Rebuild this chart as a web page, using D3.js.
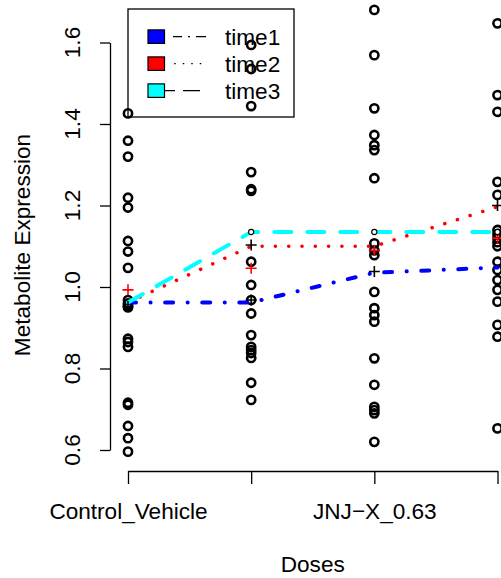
<!DOCTYPE html>
<html>
<head>
<meta charset="utf-8">
<script src="https://cdn.jsdelivr.net/npm/d3@7"></script>
<style>
  body { margin: 0; background: #fff; }
  text { font-family: "Liberation Sans", Arial, sans-serif; fill: #000; }
</style>
</head>
<body>
<div id="chart"></div>
<script>
// dose groups and the x tick labels R managed to print
const doses = ["Control_Vehicle", "dose2", "JNJ-X_0.63", "dose4"];
const tickLabels = ["Control_Vehicle", "", "JNJ\u2212X_0.63", ""];
const yTicks = [0.6, 0.8, 1.0, 1.2, 1.4, 1.6];

// raw metabolite values per dose
const ctrlValues = [1.426, 1.359, 1.32, 1.219, 1.195, 1.113, 1.087, 1.047, 0.968, 0.96, 0.955, 0.95,
  0.873, 0.865, 0.853, 0.716, 0.711, 0.659, 0.629, 0.596];
const dose2Values = [1.594, 1.535, 1.444, 1.282, 1.24, 1.236, 1.062, 1.005, 0.968, 0.935, 0.882,
  0.853, 0.845, 0.838, 0.826, 0.765, 0.723];
const dose3Values = [1.68, 1.569, 1.4385, 1.373, 1.348, 1.336, 1.267, 1.107, 1.09, 1.078, 0.988,
  0.948, 0.931, 0.915, 0.825, 0.76, 0.706, 0.698, 0.69, 0.62];
const dose4Values = [1.647, 1.471, 1.43, 1.258, 1.226, 1.14, 1.13, 1.12, 1.11, 1.1, 1.062, 1.042,
  1.017, 0.993, 0.964, 0.907, 0.878, 0.653];

// per-time summary lines
const times = ["time1", "time2", "time3"];
const time1Line = [0.962, 0.962, 1.035, 1.048];
const time2Line = [0.962, 1.10, 1.10, 1.197];
const time3Line = [0.962, 1.135, 1.135, 1.135];

// extra markers
const blackPlusDose = [0, 1, 1, 2, 3];
const blackPlusValue = [0.952, 1.103, 0.968, 1.038, 1.2];
const redPlusDose = [0, 1, 2, 3];
const redPlusValue = [0.993, 1.046, 1.09, 1.12];
const smallCircleDose = [1, 2, 3];
const smallCircleValue = [1.135, 1.135, 1.135];

const width = 501, height = 578;
const fontSize = "22.6px";
const colors = ["#0000ff", "#ff0000", "#00ffff"];

const svg = d3.select("#chart").append("svg")
    .attr("width", width)
    .attr("height", height);

const xScale = d3.scaleLinear().domain([0, 3]).range([128, 497.5]);
const yScale = d3.scaleLinear().domain([0.6, 1.6]).range([450, 42.5]);

// y axis (R style, no box)
svg.append("g")
    .attr("transform", "translate(110,0)")
    .call(d3.axisLeft(yScale).tickValues(yTicks).tickFormat(d3.format(".1f")).tickSize(10).tickSizeOuter(0))
    .call(g => g.select(".domain").attr("stroke-width", 1.3))
    .call(g => g.selectAll(".tick line").attr("stroke-width", 1.3))
    .call(g => g.selectAll(".tick text").remove());

svg.selectAll(".ylab")
    .data(yTicks)
    .enter().append("text")
    .attr("transform", d => `translate(80,${yScale(d)}) rotate(-90)`)
    .attr("text-anchor", "middle")
    .style("font-size", fontSize)
    .text(d3.format(".1f"));

// x axis
svg.append("g")
    .attr("transform", "translate(0,471)")
    .call(d3.axisBottom(xScale).tickValues(d3.range(doses.length)).tickFormat(i => tickLabels[i]).tickSize(13).tickSizeOuter(0))
    .call(g => g.select(".domain").attr("stroke-width", 1.3))
    .call(g => g.selectAll(".tick line").attr("stroke-width", 1.3))
    .call(g => g.selectAll(".tick text")
        .attr("y", 0).attr("dy", 0)
        .attr("transform", "translate(0,48)")
        .style("font-size", fontSize)
        .attr("font-family", null));

svg.append("text")
    .attr("x", xScale(1.5))
    .attr("y", 572)
    .attr("text-anchor", "middle")
    .style("font-size", fontSize)
    .text("Doses");

svg.append("text")
    .attr("transform", `translate(30,245) rotate(-90)`)
    .attr("text-anchor", "middle")
    .style("font-size", fontSize)
    .text("Metabolite Expression");

// legend
const legend = svg.append("g");
legend.append("rect")
    .attr("x", 128).attr("y", 9)
    .attr("width", 166).attr("height", 108)
    .attr("fill", "none").attr("stroke", "#000").attr("stroke-width", 1.3);

const legendDash = ["0,8,9,6,2,6,10,100", "0,9.25,1.5,7,1.5,7,1.5,7,1.5,100", "10,8,17,100"];
times.forEach((t, i) => {
    const cy = 36.7 + i * 27;
    legend.append("rect")
        .attr("x", 148).attr("y", cy - 6.8)
        .attr("width", 16.5).attr("height", 13.5)
        .attr("fill", colors[i]).attr("stroke", "#000").attr("stroke-width", 1.2);
    legend.append("line")
        .attr("x1", 165).attr("x2", 207)
        .attr("y1", cy).attr("y2", cy)
        .attr("stroke", "#000").attr("stroke-width", 1.3)
        .attr("stroke-dasharray", legendDash[i]);
    legend.append("text")
        .attr("x", 225).attr("y", cy + 8)
        .style("font-size", fontSize)
        .text(t);
});

// raw points
const groups = [ctrlValues, dose2Values, dose3Values, dose4Values];
const points = groups.flatMap((vals, i) => vals.map(v => ({dose: i, value: v})));

svg.append("g").selectAll("circle")
    .data(points)
    .enter().append("circle")
    .attr("cx", d => xScale(d.dose))
    .attr("cy", d => yScale(d.value))
    .attr("r", 4.1)
    .attr("fill", "none")
    .attr("stroke", "#000")
    .attr("stroke-width", 2.6);

// summary lines
const line = d3.line()
    .x((d, i) => xScale(i))
    .y(d => yScale(d));

const lineDash = ["8,14.5,0.1,14.5", "0.1,13.2", "17,16"];
const lineWidth = [4, 3.5, 4];
[time1Line, time2Line, time3Line].forEach((vals, i) => {
    svg.append("path")
        .datum(vals)
        .attr("d", line)
        .attr("fill", "none")
        .attr("stroke", colors[i])
        .attr("stroke-width", lineWidth[i])
        .attr("stroke-linecap", "round")
        .attr("stroke-dasharray", lineDash[i]);
});

// plus markers
const plus = (sel, doseArr, valArr, col) => {
    sel.selectAll(null)
        .data(valArr)
        .enter().append("path")
        .attr("d", (d, i) => {
            const cx = xScale(doseArr[i]), cy = yScale(d);
            return `M${cx - 5.5},${cy}H${cx + 5.5}M${cx},${cy - 5.5}V${cy + 5.5}`;
        })
        .attr("stroke", col)
        .attr("stroke-width", 1.6);
};
plus(svg.append("g"), blackPlusDose, blackPlusValue, "#000");
plus(svg.append("g"), redPlusDose, redPlusValue, "#ff0000");

svg.append("g").selectAll("circle")
    .data(smallCircleValue)
    .enter().append("circle")
    .attr("cx", (d, i) => xScale(smallCircleDose[i]))
    .attr("cy", d => yScale(d))
    .attr("r", 2.6)
    .attr("fill", "#fff")
    .attr("stroke", "#000")
    .attr("stroke-width", 1.1);
</script>
</body>
</html>
